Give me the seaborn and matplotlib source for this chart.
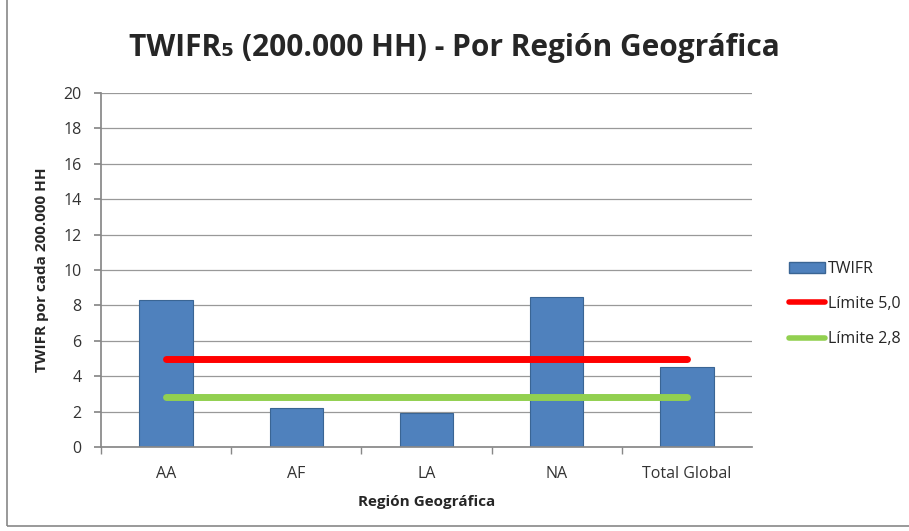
import matplotlib
matplotlib.use("Agg")
import matplotlib.pyplot as plt
import seaborn as sns
import pandas as pd
from matplotlib.patches import Rectangle
from matplotlib.lines import Line2D
from matplotlib.patches import Patch

regions = ["AA", "AF", "LA", "NA", "Total Global"]
twifr = [8.3, 2.2, 1.9, 8.5, 4.5]
limite_5 = [5.0, 5.0, 5.0, 5.0, 5.0]
limite_28 = [2.8, 2.8, 2.8, 2.8, 2.8]
y_ticks = [0, 2, 4, 6, 8, 10, 12, 14, 16, 18, 20]

sns.set_theme(style="white")
plt.rcParams['font.family'] = ['Open Sans', 'DejaVu Sans']

df = pd.DataFrame({"Región": regions, "TWIFR": twifr,
                   "Lim5": limite_5, "Lim28": limite_28})

fig = plt.figure(figsize=(9.09, 5.31), dpi=100)
ax = fig.add_axes([101/909, 1-447/531, (752-101)/909, (447-93)/531])

blue = "#4F81BD"
sns.barplot(data=df, x="Región", y="TWIFR", color=blue, width=0.41,
            edgecolor="#3A6594", linewidth=0.8, saturation=1, ax=ax)
ax.plot(df["Región"], df["Lim5"], color="#FF0000", lw=5, solid_capstyle="round", zorder=5)
ax.plot(df["Región"], df["Lim28"], color="#92D050", lw=5, solid_capstyle="round", zorder=5)

ax.set_ylim(0, 20)
ax.set_xlim(-0.5, 4.5)
ax.set_yticks(y_ticks)
ax.set_yticklabels([str(t) for t in y_ticks], fontsize=11.5, color="#333333")
ax.yaxis.grid(True, color="#999999", lw=0.9)
ax.set_axisbelow(True)
for s in ["top", "right"]:
    ax.spines[s].set_visible(False)
ax.spines["left"].set_color("#888888")
ax.spines["bottom"].set_color("#888888")
ax.tick_params(axis="y", left=True, length=5, color="#888888", pad=9)
ax.tick_params(axis="x", bottom=False, labelsize=11.5, labelcolor="#333333", pad=8)
ax.set_xticks(range(len(regions)))
ax.set_xticklabels(regions)
ax.set_xticks([i + 0.5 for i in range(len(regions) - 1)] + [-0.5], minor=True)
ax.tick_params(axis="x", which="minor", bottom=True, length=5, color="#888888")

ax.set_xlabel("Región Geográfica", fontsize=11, fontweight="bold", labelpad=9)
ax.set_ylabel("TWIFR por cada 200.000 HH", fontsize=11, fontweight="bold", labelpad=10)

fig.text(0.5, 1-48/531, "TWIFR₅ (200.000 HH) - Por Región Geográfica",
         ha="center", va="center", fontsize=21.5, fontweight="bold",
         family=['Open Sans', 'DejaVu Sans'])

handles = [Patch(facecolor=blue, edgecolor="#3A6594"),
           Line2D([0], [0], color="#FF0000", lw=4, solid_capstyle="round"),
           Line2D([0], [0], color="#92D050", lw=4, solid_capstyle="round")]
fig.legend(handles, ["TWIFR", "Límite 5,0", "Límite 2,8"],
           loc="center left", bbox_to_anchor=(775/909, 1-304/531),
           frameon=False, fontsize=11.5, handlelength=2.2, handletextpad=0.2,
           labelspacing=1.2)

fig.patches.append(Rectangle((7/909, 5/531), 1.2, 1.2, transform=fig.transFigure,
                             fill=False, edgecolor="#888888", lw=1.2))

fig.savefig("out.png", dpi=100)
